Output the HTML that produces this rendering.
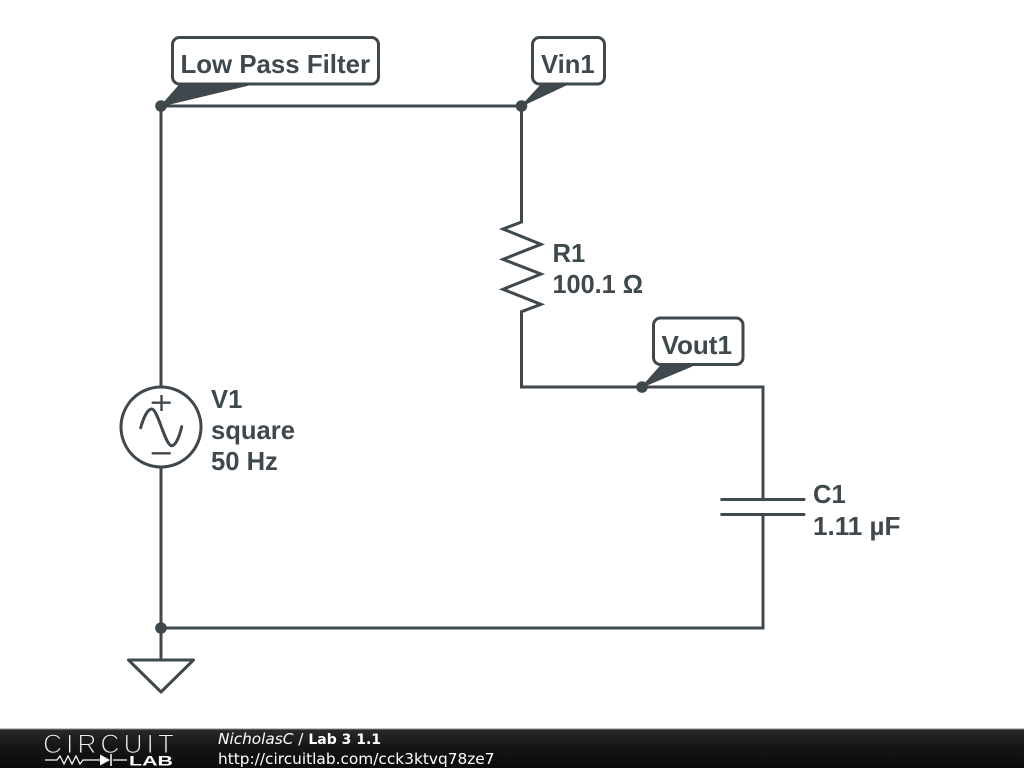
<!DOCTYPE html>
<html>
<head>
<meta charset="utf-8">
<style>
html,body{margin:0;padding:0;background:#fff;width:1024px;height:768px;overflow:hidden}
svg{display:block}
.t{font-family:"Liberation Sans",sans-serif;font-weight:bold;font-size:25.6px;fill:#3f484d}
.f{font-family:"DejaVu Sans",sans-serif;font-size:15.3px;fill:#fff}
</style>
</head>
<body>
<svg width="1024" height="768" viewBox="0 0 1024 768" xmlns="http://www.w3.org/2000/svg">
<defs>
<linearGradient id="g" x1="0" y1="0" x2="0" y2="1">
<stop offset="0" stop-color="#2a2a2a"/>
<stop offset="0.5" stop-color="#141414"/>
<stop offset="1" stop-color="#0c0c0c"/>
</linearGradient>
</defs>
<rect width="1024" height="768" fill="#fff"/>
<g fill="none" stroke="#3f484d" stroke-width="3" stroke-linejoin="miter" stroke-linecap="butt">
<path d="M161 106H521.5V222L503 229L541 244.3L503 259.3L541 274L503 289.3L541 304.3L521.5 311.7V387H763V499.5"/>
<path d="M763 514.5V628H161V106"/>
<path d="M161 628V660"/>
<path d="M721.7 499.5H804M721.7 514.5H804" stroke-linecap="round"/>
<path d="M128.5 660H193.5L161 692Z" stroke-linejoin="round"/>
<circle cx="161" cy="427" r="40" fill="#fff"/>
<path d="M151.7 402.7H170.7M161.5 395V411M151.7 453.3H170.7" stroke-width="2.4"/>
<path d="M140.7 427.7C144 416 148 409 151.7 409C158 409 165 445.7 171.7 445.7C175.5 445.7 179 438 181.7 426.7" stroke-linecap="round"/>
<rect x="172.5" y="37.5" width="206" height="46.500" rx="7" fill="#fff"/>
<rect x="532.5" y="37.5" width="72" height="46.500" rx="7" fill="#fff"/>
<rect x="653.500" y="318" width="89.500" height="46.500" rx="7" fill="#fff"/>
</g>
<g fill="#3f484d" stroke="#3f484d" stroke-width="1.2" stroke-linejoin="round">
<path d="M161 106L179.500 85H248.500Z"/>
<path d="M521.5 106L541 85H566Z"/>
<path d="M642 387L660.500 366H692Z"/>
</g>
<g fill="#3f484d">
<circle cx="161" cy="106" r="5.800"/>
<circle cx="521.500" cy="106" r="5.800"/>
<circle cx="642" cy="387" r="5.800"/>
<circle cx="161" cy="628" r="5.800"/>
</g>
<text class="t" x="180.500" y="73" textLength="189.500" lengthAdjust="spacingAndGlyphs">Low Pass Filter</text>
<text class="t" x="541" y="73">Vin1</text>
<text class="t" x="661.500" y="354" textLength="70.500" lengthAdjust="spacingAndGlyphs">Vout1</text>
<text class="t" x="552.500" y="262">R1</text>
<text class="t" x="552.500" y="293" textLength="90.500" lengthAdjust="spacingAndGlyphs">100.1 Ω</text>
<text class="t" x="211" y="408">V1</text>
<text class="t" x="211" y="439">square</text>
<text class="t" x="211" y="470">50 Hz</text>
<text class="t" x="813" y="503">C1</text>
<text class="t" x="813" y="535" textLength="87.500" lengthAdjust="spacingAndGlyphs">1.11 µF</text>
<rect x="0" y="729" width="1024" height="39" fill="url(#g)"/>
<rect x="0" y="728.500" width="1024" height="1" fill="#8a8a8a"/>
<text x="43" y="753" font-family="'Liberation Sans',sans-serif" font-size="26.500" fill="#f0f0f0" stroke="#1a1a1a" stroke-width="1.100" textLength="131" lengthAdjust="spacing">CIRCUIT</text>
<text x="129" y="765.500" font-family="'Liberation Sans',sans-serif" font-weight="bold" font-size="13.500" fill="#fff" textLength="44" lengthAdjust="spacingAndGlyphs">LAB</text>
<path d="M45 760H57L60 756L64 764L68 756L72 764L76 756L80 764L83 760H100M113 760H127" fill="none" stroke="#fff" stroke-width="1.200"/>
<path d="M100 754.500L110 760L100 765.500Z" fill="#fff"/>
<path d="M111 754V766" stroke="#fff" stroke-width="1.500"/>
<text class="f" x="218" y="744"><tspan font-style="italic">NicholasC</tspan> / <tspan font-weight="bold" font-size="14">Lab 3 1.1</tspan></text>
<text class="f" x="218" y="764" textLength="276.500" lengthAdjust="spacingAndGlyphs">http://circuitlab.com/cck3ktvq78ze7</text>
</svg>
</body>
</html>
